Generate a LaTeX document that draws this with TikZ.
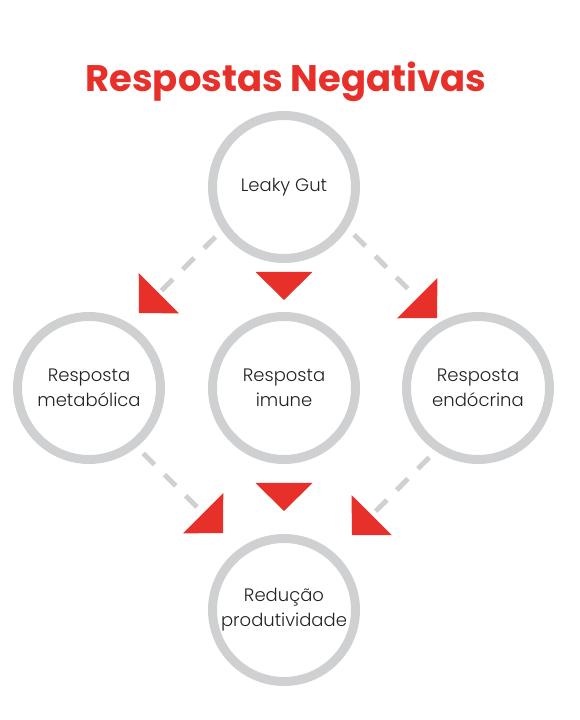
\documentclass[tikz,border=0pt]{standalone}
\usepackage{fontspec}
\setmainfont{Poppins}
\newfontfamily\respfont{Poppins}[UprightFont=* Light]
\usetikzlibrary{positioning,arrows.meta}
\definecolor{negred}{RGB}{232,48,42}
\definecolor{ringgray}{RGB}{207,208,210}
\definecolor{txtgray}{RGB}{35,33,34}
\tikzset{resp node/.style={circle,draw=ringgray,line width=9pt,minimum size=143pt,inner sep=0pt,align=center,text=txtgray,font=\respfont\fontsize{18}{25}\selectfont}}
\tikzset{link/.style={draw=ringgray,line width=5pt,dash pattern=on 16pt off 14pt,shorten <=9pt,-{Triangle[length=28pt,width=57pt,line width=0pt,color=negred,fill=negred]}}}
\tikzset{tip only/.style={dash pattern=on 0pt off 500pt,shorten <=0pt}}

\begin{document}
\begin{tikzpicture}[x=1pt,y=1pt]
            \useasboundingbox (0,0) rectangle (580,720);
            \node[font=\fontsize{37}{42}\selectfont\bfseries,text=negred] (title) at (286,638) {Respostas Negativas};

            \node[resp node] (imune) at (284,332) {Resposta\\imune};
            \node[resp node] (metab) [left = 43pt of imune] {Resposta\\metabólica};
            \node[resp node] (endoc) [right = 42pt of imune] {Resposta\\endócrina};
            \node[resp node] (leaky) [above = 49pt of imune] {Leaky Gut};
            \node[resp node] (reduc) [below = 70pt of imune] {Redução\\produtividade};

            \coordinate (t1) at (139,407);
            \coordinate (t2) at (284,420);
            \coordinate (t3) at (437,402);
            \coordinate (t4) at (223,187);
            \coordinate (t5) at (284,209);
            \coordinate (t6) at (352,185);

            \draw[link] (leaky.215) -- (t1);
            \draw[link,tip only] (leaky) -- (t2);
            \draw[link] (leaky.-33) -- (t3);
            \draw[link] (metab.-51) -- (t4);
            \draw[link,tip only] (imune) -- (t5);
            \draw[link] (endoc.236) -- (t6);
        \end{tikzpicture}
\end{document}
